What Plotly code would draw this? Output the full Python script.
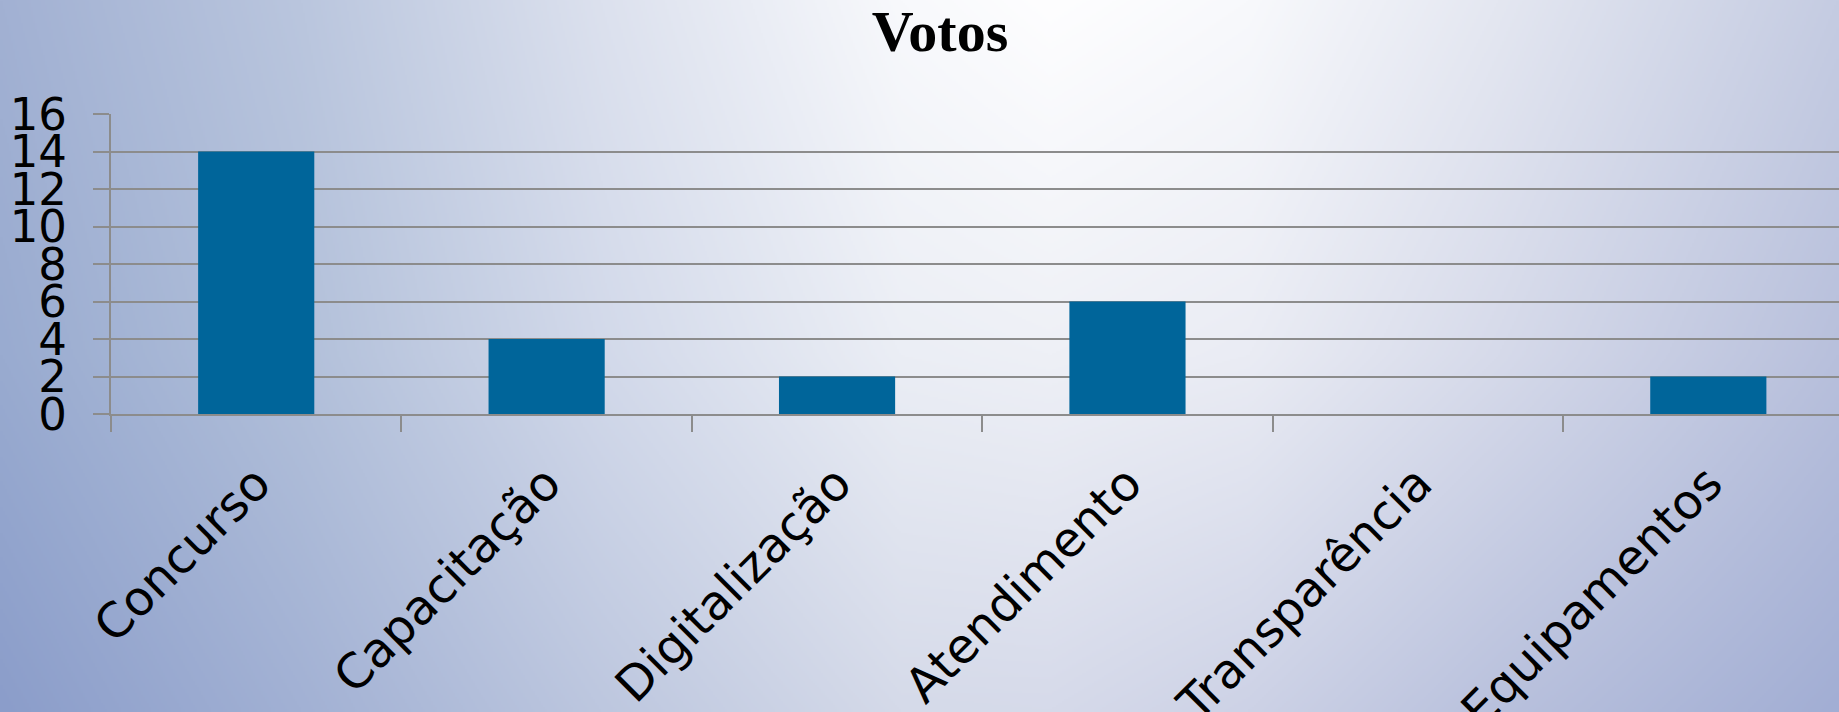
import base64, struct, zlib
import numpy as np
import plotly.graph_objects as go

# ---- data ----
categories = ["Concurso", "Capacitação", "Digitalização", "Atendimento", "Transparência", "Equipamentos"]
votos = [14, 4, 2, 6, 0, 2]
y_ticks = [0, 2, 4, 6, 8, 10, 12, 14, 16]

W, H = 1839, 712
ML, MR, MT, MB = 111, 0, 114, 298

# ---- background gradient (style only) ----
def hex2rgb(h):
    h = h.lstrip("#")
    return [int(h[i:i + 2], 16) for i in (0, 2, 4)]

grad_x = [0, 300, 600, 900, 1050, 1250, 1500, 1839]
grad_rows_y = [0, 356, 712]
grad_rows = [
    ["#A2B1D3", "#BAC6DE", "#DCE1EE", "#F8F9FC", "#FEFEFF", "#F8F9FC", "#E4E7F1", "#C5CCE2"],
    ["#99ABD0", "#B2C0DA", "#D2D9EA", "#EBEEF5", "#EEF0F6", "#EAECF4", "#D6DAEA", "#B8C0DC"],
    ["#8B9DCA", "#A2B1D4", "#BDC7DF", "#D5DAE9", "#D6DAEA", "#CDD2E6", "#B9C1DD", "#A2AED4"],
]

def make_png():
    sw, sh = W // 2, H // 2
    px = np.linspace(0, W, sw)
    py = np.linspace(0, H, sh)
    rows = []
    for r in grad_rows:
        cols = np.array([hex2rgb(c) for c in r], dtype=float)
        rows.append(np.stack([np.interp(px, grad_x, cols[:, k]) for k in range(3)], axis=-1))
    rows = np.array(rows)  # (3, sw, 3)
    img = np.empty((sh, sw, 3))
    for k in range(3):
        for j in range(sw):
            img[:, j, k] = np.interp(py, grad_rows_y, rows[:, j, k])
    img = np.clip(img, 0, 255).astype(np.uint8)
    raw = b"".join(b"\x00" + img[i].tobytes() for i in range(sh))

    def chunk(tag, data):
        c = struct.pack(">I", len(data)) + tag + data
        return c + struct.pack(">I", zlib.crc32(tag + data) & 0xFFFFFFFF)

    png = b"\x89PNG\r\n\x1a\n"
    png += chunk(b"IHDR", struct.pack(">IIBBBBB", sw, sh, 8, 2, 0, 0, 0))
    png += chunk(b"IDAT", zlib.compress(raw, 9))
    png += chunk(b"IEND", b"")
    return "data:image/png;base64," + base64.b64encode(png).decode()

pw = W - ML - MR
ph = H - MT - MB

grid_col = "#8C8C8C"
font_fam = "DejaVu Sans"

fig = go.Figure(
    go.Bar(
        x=categories,
        y=votos,
        marker=dict(color="#00659A", line=dict(width=0)),
        width=0.4,
    )
)

fig.update_layout(
    width=W,
    height=H,
    margin=dict(l=ML, r=MR, t=MT, b=MB, autoexpand=False),
    paper_bgcolor="#B0BCDA",
    plot_bgcolor="rgba(0,0,0,0)",
    showlegend=False,
    title=dict(
        text="<b>Votos</b>",
        font=dict(family="Liberation Serif", size=58, color="#000000"),
        x=940 / W,
        xanchor="center",
        xref="container",
        y=1 - 10 / H,
        yref="container",
        yanchor="top",
    ),
    images=[
        dict(
            source=make_png(),
            xref="paper",
            yref="paper",
            x=-ML / pw,
            y=1 + MT / ph,
            sizex=W / pw,
            sizey=H / ph,
            xanchor="left",
            yanchor="top",
            sizing="stretch",
            layer="below",
        )
    ],
)

fig.update_xaxes(
    type="category",
    range=[-0.5, 5.45],
    tickson="boundaries",
    ticks="outside",
    ticklen=16,
    tickwidth=2,
    tickcolor=grid_col,
    showline=True,
    linecolor=grid_col,
    linewidth=2,
    showgrid=False,
    tickangle=-45,
    tickfont=dict(family=font_fam, size=48, color="#000000"),
    ticklabelstandoff=20,
    automargin=False,
    fixedrange=True,
)

fig.update_yaxes(
    range=[0, 16],
    tickvals=y_ticks,
    ticktext=[str(v) for v in y_ticks],
    ticks="outside",
    ticklen=16,
    tickwidth=2,
    tickcolor=grid_col,
    showline=True,
    linecolor=grid_col,
    linewidth=2,
    showgrid=True,
    gridcolor=grid_col,
    gridwidth=2,
    zeroline=False,
    tickfont=dict(family=font_fam, size=45, color="#000000"),
    ticklabelstandoff=17,
    automargin=False,
    fixedrange=True,
)

fig.write_html(
    "out.html",
    config={"displayModeBar": False},
    post_script="document.body.style.margin='0';document.body.style.overflow='hidden';",
)
